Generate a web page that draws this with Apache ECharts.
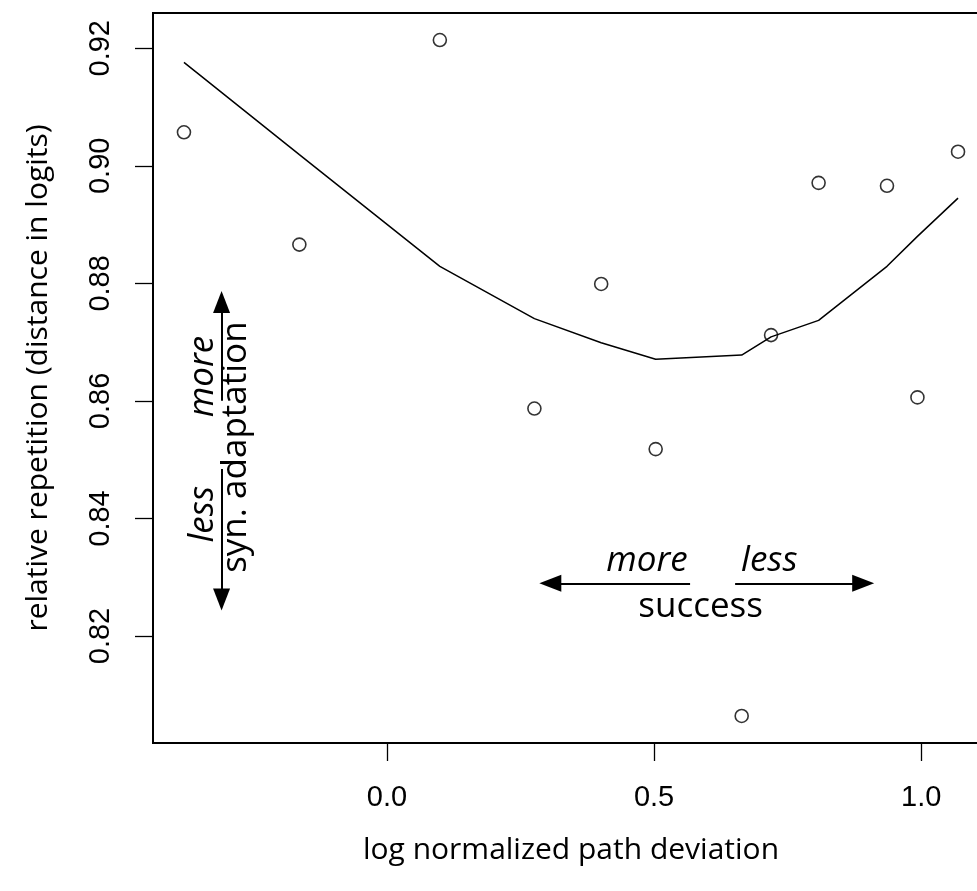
<!DOCTYPE html>
<html>
<head>
<meta charset="utf-8">
<script src="https://cdn.jsdelivr.net/npm/echarts@6/dist/echarts.min.js"></script>
<style>
  html, body { margin: 0; padding: 0; background: #fff; }
  #chart { width: 977px; height: 891px; }
</style>
</head>
<body>
<div id="chart"></div>
<script>
// Observations: log normalized path deviation vs relative repetition
const pathDeviation = [-0.380, -0.164, 0.099, 0.276, 0.401, 0.503, 0.664, 0.719, 0.808, 0.936, 0.993, 1.069];
const repetition    = [0.9057, 0.8866, 0.9214, 0.8587, 0.8799, 0.8518, 0.8064, 0.8712, 0.8971, 0.8966, 0.8606, 0.9024];
// Smoothed trend evaluated at the same x values
const smoothFit     = [0.9176, 0.9019, 0.8829, 0.8740, 0.8699, 0.8671, 0.8678, 0.8709, 0.8737, 0.8829, 0.8880, 0.8945];

const xTicks = [0.0, 0.5, 1.0];
const yTicks = [0.82, 0.84, 0.86, 0.88, 0.90, 0.92];

const xTitle = 'log normalized path deviation';
const yTitle = 'relative repetition (distance in logits)';

// Axis extents padded 4% beyond the data range
function padded(vals) {
  const lo = Math.min(...vals), hi = Math.max(...vals), d = (hi - lo) * 0.04;
  return [lo - d, hi + d];
}
const [xMin, xMax] = padded(pathDeviation);
const [yMin, yMax] = padded(repetition);

const labelFont = '"Liberation Sans", Arial, sans-serif';
const textFont = '"Open Sans", sans-serif';

const chart = echarts.init(document.getElementById('chart'), null, { renderer: 'canvas' });

chart.setOption({
  animation: false,
  backgroundColor: '#fff',
  grid: {
    left: 153, top: 13, width: 836, bottom: 148,
    outerBoundsMode: 'none', containLabel: false,
    show: true, borderColor: '#000', borderWidth: 2, backgroundColor: 'transparent'
  },
  xAxis: {
    type: 'value', min: xMin, max: xMax,
    splitLine: { show: false },
    axisLine: { show: false, onZero: false },
    axisTick: { show: true, customValues: xTicks, length: 18, lineStyle: { color: '#000', width: 1.3 } },
    axisLabel: {
      customValues: xTicks, margin: 40,
      formatter: v => v.toFixed(1),
      color: '#000', fontFamily: labelFont, fontSize: 29
    },
    name: xTitle, nameLocation: 'middle', nameGap: 92,
    nameTextStyle: { color: '#000', fontFamily: textFont, fontSize: 30 }
  },
  yAxis: {
    type: 'value', min: yMin, max: yMax,
    splitLine: { show: false },
    axisLine: { show: false, onZero: false },
    axisTick: { show: true, customValues: yTicks, length: 18, lineStyle: { color: '#000', width: 1.3 } },
    axisLabel: {
      customValues: yTicks, margin: 38, rotate: 90,
      formatter: v => v.toFixed(2),
      color: '#000', fontFamily: labelFont, fontSize: 29
    },
    name: yTitle, nameLocation: 'middle', nameGap: 100, nameRotate: 90,
    nameTextStyle: { color: '#000', fontFamily: textFont, fontSize: 30 }
  },
  series: [
    {
      type: 'line',
      data: pathDeviation.map((x, i) => [x, smoothFit[i]]),
      symbol: 'none',
      lineStyle: { color: '#000', width: 1.5 },
      z: 2
    },
    {
      type: 'scatter',
      data: pathDeviation.map((x, i) => [x, repetition[i]]),
      symbol: 'circle', symbolSize: 13,
      itemStyle: { color: 'rgba(0,0,0,0)', borderColor: '#000', borderWidth: 1.6 },
      z: 3
    },
    {
      // direction arrows, drawn in data coordinates
      type: 'line', data: [], silent: true,
      markLine: {
        silent: true, animation: false,
        symbol: ['none', 'triangle'], symbolSize: [17, 22],
        label: { show: false },
        lineStyle: { color: '#000', width: 2, type: 'solid' },
        itemStyle: { color: '#000' },
        data: [
          [{ coord: [0.5674, 0.82896] }, { coord: [0.3058, 0.82896] }],
          [{ coord: [0.6517, 0.82896] }, { coord: [0.8914, 0.82896] }],
          [{ coord: [-0.3096, 0.86005] }, { coord: [-0.3096, 0.87681] }],
          [{ coord: [-0.3096, 0.84840] }, { coord: [-0.3096, 0.82621] }]
        ]
      }
    }
  ]
});

// Annotation texts anchored in data coordinates
function px(x, y) { return chart.convertToPixel({ gridIndex: 0 }, [x, y]); }
function note(text, x, y, align, italic, vertical) {
  const p = px(x, y);
  return {
    type: 'text', x: p[0], y: p[1], rotation: vertical ? Math.PI / 2 : 0,
    style: {
      text: text, fill: '#000', font: (italic ? 'italic ' : '') + '35px ' + textFont,
      align: align, verticalAlign: 'middle'
    },
    z: 10
  };
}
chart.setOption({
  graphic: [
    note('more', 0.5631, 0.83278, 'right', true, false),
    note('less', 0.6629, 0.83278, 'left', true, false),
    note('success', 0.5871, 0.82486, 'center', false, false),
    note('more', -0.3446, 0.85723, 'left', true, true),
    note('less', -0.3446, 0.84552, 'right', true, true),
    note('syn. adaptation', -0.2828, 0.85214, 'center', false, true)
  ]
});
</script>
</body>
</html>
